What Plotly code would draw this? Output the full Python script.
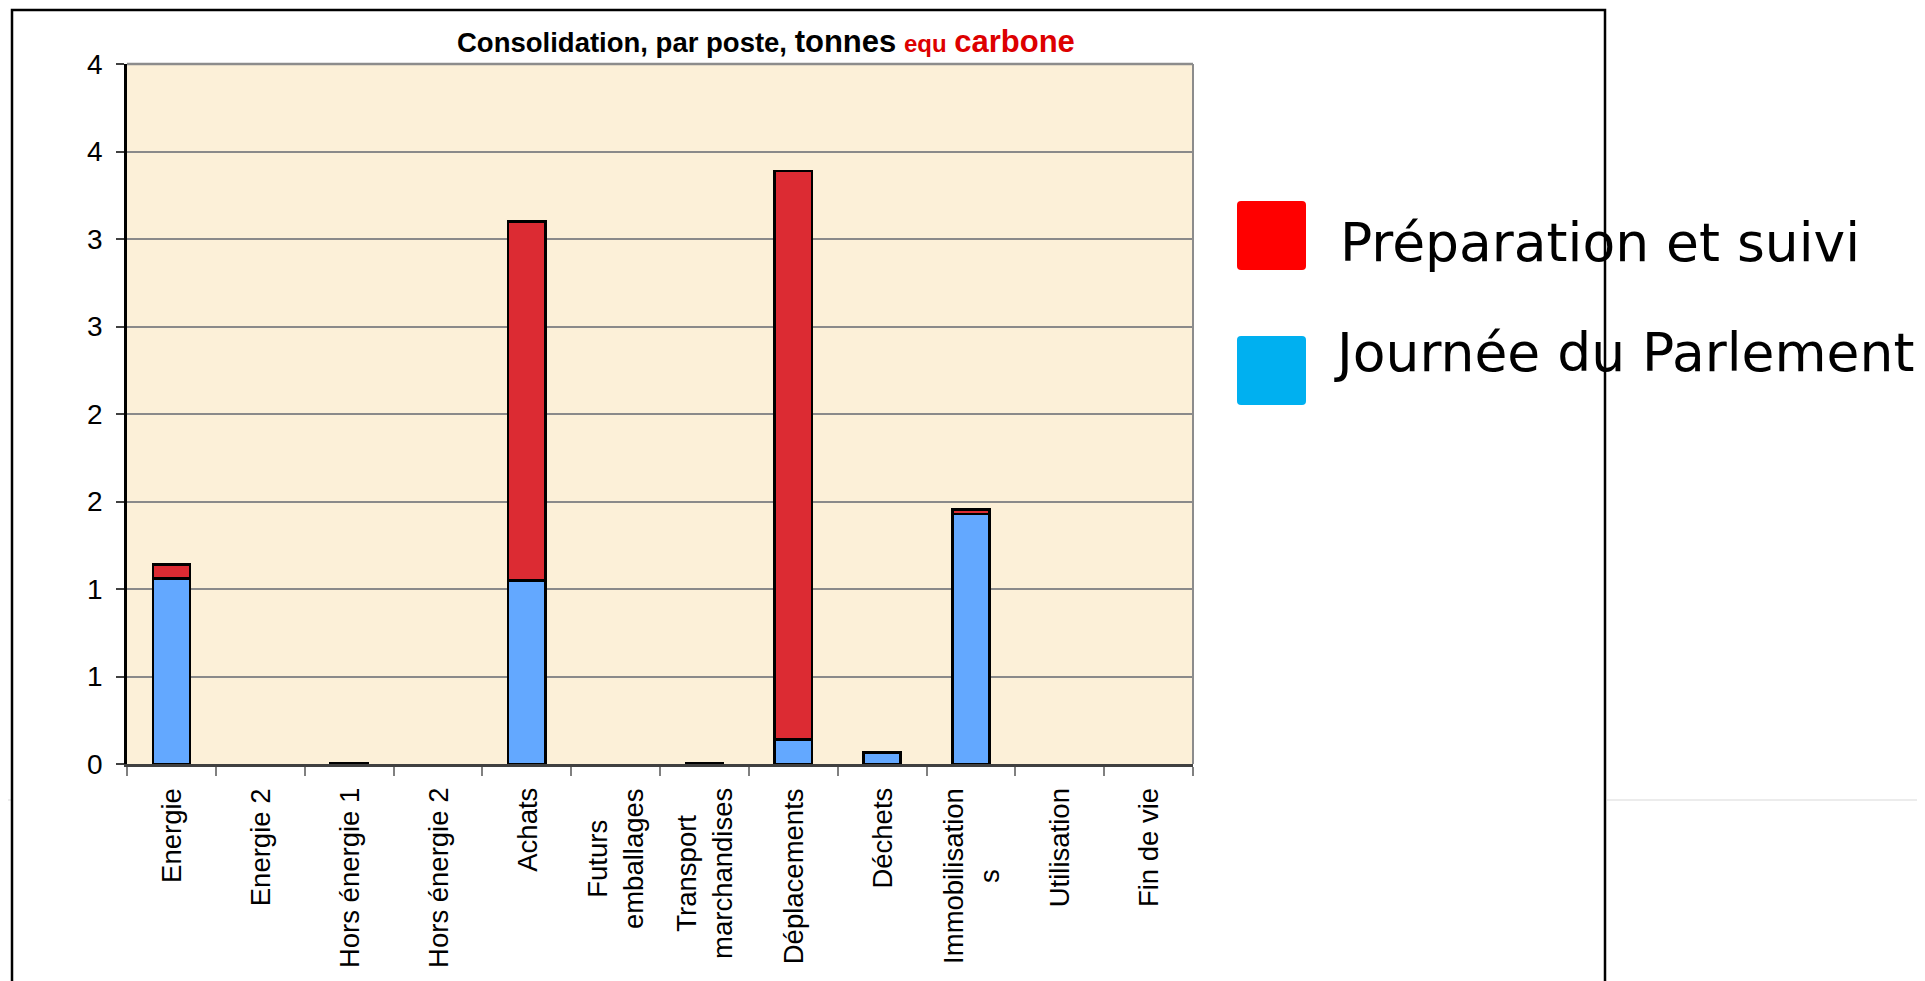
import plotly.graph_objects as go

# ---------------- data ----------------
categories = ["Energie", "Energie 2", "Hors énergie 1", "Hors énergie 2", "Achats",
              "Futurs emballages", "Transport marchandises", "Déplacements", "Déchets",
              "Immobilisations", "Utilisation", "Fin de vie"]
category_labels = ["Energie", "Energie 2", "Hors énergie 1", "Hors énergie 2", "Achats",
                   "Futurs<br>emballages", "Transport<br>marchandises", "Déplacements", "Déchets",
                   "Immobilisation<br>s", "Utilisation", "Fin de vie"]
journee_parlement = [1.06, None, 0.006, None, 1.05, None, 0.006, 0.14, 0.065, 1.43, None, None]
preparation_suivi = [0.08, None, None, None, 2.05, None, None, 3.25, None, 0.025, None, None]
series_names = ["Préparation et suivi", "Journée du Parlement"]
y_tick_values = [0, 0.5, 1, 1.5, 2, 2.5, 3, 3.5, 4]
y_tick_labels = ["0", "1", "1", "2", "2", "3", "3", "4", "4"]

# ---------------- geometry helpers (screen pixel -> paper) ----------------
W, H = 1925, 981
PAGE_OFFSET = 8          # default body margin of the html page
L, R, T, B = 127, 1193, 64, 764   # plot area on screen


def px(x):
    return (x - L) / (R - L)


def py(y):
    return (B - y) / (B - T)


def rounded_rect(x0, y0, x1, y1, r):
    pts = [
        f"M {px(x0 + r)},{py(y0)}",
        f"L {px(x1 - r)},{py(y0)}",
        f"Q {px(x1)},{py(y0)} {px(x1)},{py(y0 + r)}",
        f"L {px(x1)},{py(y1 - r)}",
        f"Q {px(x1)},{py(y1)} {px(x1 - r)},{py(y1)}",
        f"L {px(x0 + r)},{py(y1)}",
        f"Q {px(x0)},{py(y1)} {px(x0)},{py(y1 - r)}",
        f"L {px(x0)},{py(y0 + r)}",
        f"Q {px(x0)},{py(y0)} {px(x0 + r)},{py(y0)}",
        "Z",
    ]
    return " ".join(pts)


FONT = "Liberation Sans, Arial, sans-serif"
BAR_BLUE = "#63A8FF"
BAR_RED = "#DC2B33"

fig = go.Figure()
fig.add_trace(go.Bar(
    x=categories, y=journee_parlement, name=series_names[1],
    marker=dict(color=BAR_BLUE, line=dict(color="black", width=2.5)),
    showlegend=False,
))
fig.add_trace(go.Bar(
    x=categories, y=preparation_suivi, name=series_names[0],
    marker=dict(color=BAR_RED, line=dict(color="black", width=2.5)),
    showlegend=False,
))

shapes = []
# outer chart frame
shapes.append(dict(type="rect", xref="paper", yref="paper",
                   x0=px(12), x1=px(1605), y0=py(1010), y1=py(10),
                   line=dict(color="black", width=2.5), layer="above"))
# plot area top and right borders (grey)
shapes.append(dict(type="line", xref="paper", yref="paper", x0=0, x1=1, y0=1, y1=1,
                   line=dict(color="#8c8c8c", width=2.5), layer="above"))
shapes.append(dict(type="line", xref="paper", yref="paper", x0=1, x1=1, y0=0, y1=1,
                   line=dict(color="#8c8c8c", width=2), layer="above"))
# faint slide guide lines
shapes.append(dict(type="line", xref="paper", yref="paper", x0=px(0), x1=px(11), y0=py(800), y1=py(800),
                   line=dict(color="#e6e6e6", width=1.5), layer="below"))
shapes.append(dict(type="line", xref="paper", yref="paper", x0=px(1607), x1=px(1921), y0=py(800), y1=py(800),
                   line=dict(color="#e6e6e6", width=1.5), layer="below"))
shapes.append(dict(type="line", xref="paper", yref="paper", x0=px(1921), x1=px(1921), y0=py(0), y1=py(981),
                   line=dict(color="#d0d0d0", width=1.5), layer="below"))
# legend swatches
shapes.append(dict(type="path", xref="paper", yref="paper", path=rounded_rect(1237, 201, 1306, 270, 4),
                   fillcolor="#FF0000", line=dict(width=0), layer="above"))
shapes.append(dict(type="path", xref="paper", yref="paper", path=rounded_rect(1237, 336, 1306, 405, 4),
                   fillcolor="#00B0F0", line=dict(width=0), layer="above"))

annotations = []
# title
annotations.append(dict(
    xref="paper", yref="paper", x=px(766), y=py(61), xanchor="center", yanchor="bottom",
    showarrow=False,
    text=("<b>Consolidation, par poste, <span style='font-size:31px'>tonnes</span> "
          "<span style='color:#DD0000;font-size:24px'>equ</span> "
          "<span style='color:#DD0000;font-size:31px'>carbone</span></b>"),
    font=dict(family=FONT, size=27.5, color="black"),
))
# legend texts
annotations.append(dict(
    xref="paper", yref="paper", x=px(1338), y=py(243), xanchor="left", yanchor="middle",
    showarrow=False, text=series_names[0],
    font=dict(family="DejaVu Sans, Verdana, sans-serif", size=53.5, color="black"),
))
annotations.append(dict(
    xref="paper", yref="paper", x=px(1332), y=py(353), xanchor="left", yanchor="middle",
    showarrow=False, text=series_names[1],
    font=dict(family="DejaVu Sans, Verdana, sans-serif", size=53.5, color="black"),
))
# category labels (rotated, centred multi-line)
for cat, lab in zip(categories, category_labels):
    annotations.append(dict(
        x=cat, xref="x", y=0, yref="paper", yanchor="top", xanchor="center",
        yshift=-22, textangle=-90, align="center", showarrow=False,
        text=lab, font=dict(family=FONT, size=27.5, color="black"),
    ))

fig.update_layout(
    width=W, height=H,
    margin=dict(l=L - PAGE_OFFSET, r=W - (R - PAGE_OFFSET), t=T - PAGE_OFFSET,
                b=H - (B - PAGE_OFFSET), pad=0),
    paper_bgcolor="white",
    plot_bgcolor="#FCF0D8",
    barmode="stack",
    bargap=0.58,
    showlegend=False,
    shapes=shapes,
    annotations=annotations,
    font=dict(family=FONT, size=26, color="black"),
)
fig.update_xaxes(
    type="category", categoryorder="array", categoryarray=categories,
    showticklabels=False, tickson="boundaries", ticks="outside", ticklen=9,
    tickcolor="#808080", tickwidth=1.5,
    showline=True, linecolor="#404040", linewidth=2.5,
    showgrid=False, zeroline=False, fixedrange=True,
)
fig.update_yaxes(
    range=[0, 4], tickmode="array", tickvals=y_tick_values, ticktext=y_tick_labels,
    ticks="outside", ticklen=8, tickcolor="#404040", tickwidth=1.5,
    ticklabelstandoff=8,
    tickfont=dict(family=FONT, size=28, color="black"),
    showline=True, linecolor="black", linewidth=2.5,
    showgrid=True, gridcolor="#8a8a8a", gridwidth=1.5,
    zeroline=False, fixedrange=True,
)

fig.write_html("out.html")
